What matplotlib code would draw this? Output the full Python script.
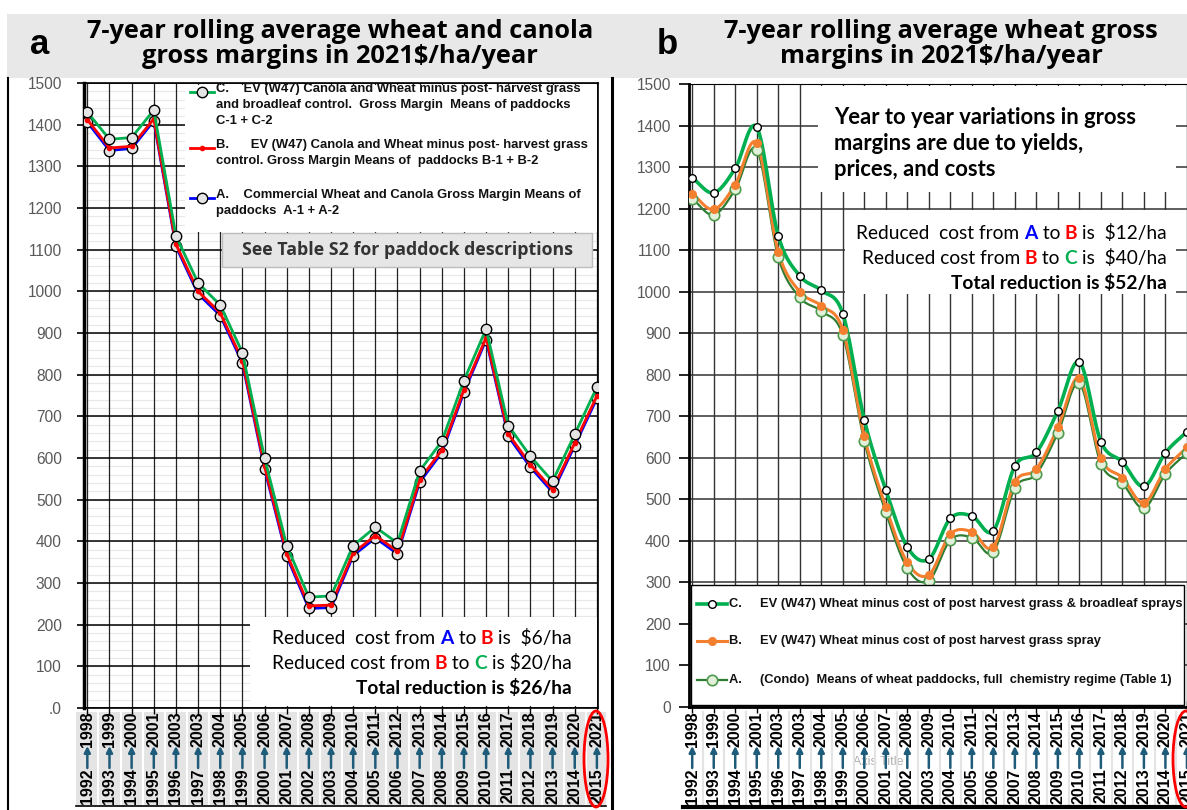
import numpy as np
import matplotlib
matplotlib.use("Agg")
import matplotlib.pyplot as plt
import matplotlib.transforms as mtransforms
from matplotlib.lines import Line2D
from matplotlib.patches import Rectangle, Ellipse
from matplotlib.offsetbox import TextArea, HPacker, VPacker, AnchoredOffsetbox

W, H = 1187, 810
SANS = ["Liberation Sans", "DejaVu Sans"]
ROUND = ["Lato", "DejaVu Sans"]
TITLE = ["Open Sans", "DejaVu Sans"]
plt.rcParams["font.family"] = SANS

# period labels (start year -> end year of 7-year window)
START_YEARS = [1992, 1993, 1994, 1995, 1996, 1997, 1998, 1999, 2000, 2001, 2002, 2003,
               2004, 2005, 2006, 2007, 2008, 2009, 2010, 2011, 2012, 2013, 2014, 2015]
END_YEARS = [1998, 1999, 2000, 2001, 2003, 2003, 2004, 2005, 2006, 2007, 2008, 2009,
             2010, 2011, 2012, 2013, 2014, 2015, 2016, 2017, 2018, 2019, 2020, 2021]

# panel a: wheat + canola gross margins
a_C = [1430, 1365, 1369, 1435, 1133, 1020, 967, 853, 600, 390, 266, 269,
       390, 434, 396, 569, 640, 786, 910, 678, 604, 544, 657, 770]
a_B = [1412, 1344, 1348, 1414, 1113, 1000, 948, 834, 580, 370, 245, 247,
       372, 414, 376, 548, 619, 764, 889, 658, 584, 524, 636, 749]
a_A = [1406, 1338, 1343, 1409, 1108, 994, 942, 828, 574, 364, 239, 241,
       366, 408, 370, 542, 613, 758, 884, 652, 578, 518, 630, 743]

# panel b: wheat gross margins
b_C = [1274, 1238, 1297, 1396, 1135, 1038, 1003, 947, 692, 523, 385, 356,
       454, 460, 424, 580, 613, 713, 831, 639, 590, 531, 612, 663]
b_B = [1236, 1198, 1258, 1357, 1096, 1000, 966, 908, 652, 482, 348, 318,
       416, 422, 385, 541, 573, 673, 792, 599, 552, 491, 573, 625]
b_A = [1224, 1185, 1246, 1342, 1083, 986, 953, 895, 640, 469, 334, 304,
       402, 408, 373, 527, 561, 660, 779, 586, 539, 479, 561, 612]

GREEN = "#00B050"
RED = "#FF0000"
BLUE = "#0000FF"
ORANGE = "#F4802F"
DKGREEN = "#2E7D32"
ARROW = "#1F5C7A"


def fx(x):
    return x / W


def fy(y):
    return 1 - y / H


def fig_rect(fig, x0, y0, x1, y1, **kw):
    r = Rectangle((fx(x0), fy(y1)), fx(x1) - fx(x0), fy(y0) - fy(y1),
                  transform=fig.transFigure, **kw)
    fig.add_artist(r)


def fig_line(fig, xs, ys, **kw):
    fig.add_artist(Line2D([fx(x) for x in xs], [fy(y) for y in ys],
                          transform=fig.transFigure, **kw))


def smooth(xs, ys, n=16):
    """Catmull-Rom curve through the points (like Excel 'smoothed line')."""
    x = np.asarray(xs, float)
    y = np.asarray(ys, float)
    px = np.concatenate([[2 * x[0] - x[1]], x, [2 * x[-1] - x[-2]]])
    py = np.concatenate([[2 * y[0] - y[1]], y, [2 * y[-1] - y[-2]]])
    t = np.linspace(0, 1, n, endpoint=False)
    outx, outy = [], []
    for i in range(1, len(px) - 2):
        for p, out in ((px, outx), (py, outy)):
            p0, p1, p2, p3 = p[i - 1], p[i], p[i + 1], p[i + 2]
            out.extend(0.5 * (2 * p1 + (-p0 + p2) * t + (2 * p0 - 5 * p1 + 4 * p2 - p3) * t ** 2
                              + (-p0 + 3 * p1 - 3 * p2 + p3) * t ** 3))
    outx.append(x[-1])
    outy.append(y[-1])
    return outx, outy


def period_labels(fig, ax, sep_color):
    tr = mtransforms.blended_transform_factory(ax.transData, fig.transFigure)
    for i, (s, e) in enumerate(zip(START_YEARS, END_YEARS)):
        ax.text(i, fy(786), str(s), transform=tr, rotation=90, ha="center", va="center",
                fontsize=11.5, fontweight="bold", clip_on=False)
        ax.text(i, fy(729), str(e), transform=tr, rotation=90, ha="center", va="center",
                fontsize=11.5, fontweight="bold", clip_on=False)
        ax.annotate("", xy=(i, fy(746)), xytext=(i, fy(768)), xycoords=tr, textcoords=tr,
                    arrowprops=dict(arrowstyle="-|>", color=ARROW, lw=1.8, mutation_scale=9,
                                    shrinkA=0, shrinkB=0),
                    annotation_clip=False)
        if i < len(START_YEARS) - 1:
            ax.plot([i + 0.5, i + 0.5], [fy(712), fy(805)], transform=tr, color=sep_color,
                    lw=1.5, clip_on=False, zorder=0.5)


fig = plt.figure(figsize=(W / 100, H / 100), dpi=100)

# title banner
fig_rect(fig, 7, 14, W, 78, facecolor="#E8E8E8", edgecolor="none", zorder=-2)
fig.text(fx(40), fy(45), "a", fontsize=25, fontweight="bold", ha="center", va="center")
fig.text(fx(667), fy(45), "b", fontsize=25, fontweight="bold", ha="center", va="center")
fig.text(fx(340), fy(44), "7-year rolling average wheat and canola\ngross margins in 2021\\$/ha/year",
         fontsize=18.3, fontweight="bold", family=TITLE, ha="center", va="center", linespacing=1.0)
fig.text(fx(941), fy(44), "7-year rolling average wheat gross\nmargins in 2021\\$/ha/year",
         fontsize=18.3, fontweight="bold", family=TITLE, ha="center", va="center", linespacing=1.0)

# panel frames
fig_line(fig, [8, 8], [78, 810], color="black", lw=1.5)
fig_line(fig, [612, 612], [78, 810], color="black", lw=2.2)

# ---------------- panel a ----------------
axa = fig.add_axes([fx(84), fy(708), fx(598) - fx(84), fy(83) - fy(708)])
x = np.arange(len(a_C))
axa.set_xlim(-0.15, 23.05)
axa.set_ylim(0, 1500)
axa.set_yticks(range(0, 1501, 100))
axa.set_yticklabels([".0"] + [str(v) for v in range(100, 1501, 100)])
axa.set_xticks(x)
axa.set_xticklabels([])
axa.tick_params(axis="y", length=5, width=1.2, pad=11, labelsize=11.2,
                labelcolor="#595959", direction="out")
axa.tick_params(axis="x", length=4, width=1, direction="out")
axa.hlines(range(0, 1501, 20), -1, 24, color="#E8E8E8", lw=0.8, zorder=0.1)
axa.grid(axis="y", color="black", lw=1.1)
axa.grid(axis="x", color="#222222", lw=0.9)
axa.set_axisbelow(True)
axa.spines["left"].set_linewidth(2.5)
for side in ("right", "top", "bottom"):
    axa.spines[side].set_linewidth(1.2)

mk = dict(marker="o", markersize=7.5, markerfacecolor="#E4E4E4", markeredgecolor="black",
          markeredgewidth=1)
mk_red = dict(marker="o", markersize=3, markerfacecolor=RED, markeredgecolor=RED)
axa.plot(x, a_A, color=BLUE, lw=2, zorder=3, **mk)
axa.plot(x, a_B, color=RED, lw=2, zorder=4, **mk_red)
axa.plot(x, a_C, color=GREEN, lw=2, zorder=5, **mk)

# legend (panel a)
fig_rect(fig, 185, 85, 597, 232, facecolor="white", edgecolor="none", zorder=2)
leg_a = [
    (92, GREEN, mk, "C.    EV (W47) Canola and Wheat minus post- harvest grass\n"
                    "and broadleaf control.  Gross Margin  Means of paddocks\nC-1 + C-2"),
    (148, RED, mk_red, "B.      EV (W47) Canola and Wheat minus post- harvest grass\n"
                       "control. Gross Margin Means of  paddocks B-1 + B-2"),
    (198, BLUE, mk, "A.    Commercial Wheat and Canola Gross Margin Means of\npaddocks  A-1 + A-2"),
]
for yy, col, m, lab in leg_a:
    fig_line(fig, [190, 202, 214], [yy, yy, yy], color=col, lw=2, markevery=[1], zorder=3, **m)
    fig.text(fx(216), fy(yy - 9), lab, fontsize=9.4, fontweight="bold", va="top", ha="left",
             linespacing=1.45, zorder=3, color="#111111")

fig_rect(fig, 222, 233, 592, 267, facecolor="#E6E6E6", edgecolor="#BDBDBD", lw=1, zorder=3)
fig.text(fx(407), fy(250), "See Table S2 for paddock descriptions", fontsize=12.8, fontweight="bold",
         family=TITLE, ha="center", va="center", color="#333333", zorder=4)


def rich_line(parts, size):
    boxes = [TextArea(t, textprops=dict(color=c, fontweight=w, fontsize=size, family=ROUND))
             for t, c, w in parts]
    return HPacker(children=boxes, align="baseline", pad=0, sep=0)


def reduction_box(fig, right, top, ab, bc, total, size=13.8):
    lines = [
        rich_line([("Reduced  cost from ", "black", "normal"), ("A", BLUE, "bold"),
                   (" to ", "black", "normal"), ("B", RED, "bold"),
                   (" is  " + ab, "black", "normal")], size),
        rich_line([("Reduced cost from ", "black", "normal"), ("B", RED, "bold"),
                   (" to ", "black", "normal"), ("C", GREEN, "bold"),
                   (" is " + bc, "black", "normal")], size),
        rich_line([("Total reduction is " + total, "black", "bold")], size),
    ]
    box = AnchoredOffsetbox(loc="upper right", child=VPacker(children=lines, align="right", pad=0, sep=5),
                            bbox_to_anchor=(fx(right), fy(top)), bbox_transform=fig.transFigure,
                            frameon=False, pad=0, borderpad=0)
    box.set_zorder(4)
    fig.add_artist(box)


fig_rect(fig, 250, 617, 597, 706, facecolor="white", edgecolor="none", zorder=2)
reduction_box(fig, 572, 629, "\\$6/ha", "\\$20/ha", "\\$26/ha")

# x band (panel a)
fig_rect(fig, 76, 712, 606, 805, facecolor="#E4E4E4", edgecolor="none", zorder=-1)
fig_line(fig, [76, 606], [806, 806], color="black", lw=1.2)
period_labels(fig, axa, "white")
fig.add_artist(Ellipse((fx(596), fy(759)), fx(24), 96 / H, transform=fig.transFigure,
                       facecolor="none", edgecolor=RED, lw=2, zorder=6))

# ---------------- panel b ----------------
axb = fig.add_axes([fx(689), fy(707), fx(W + 1) - fx(689), fy(84) - fy(707)])
axb.set_xlim(-0.15, 23.05)
axb.set_ylim(0, 1500)
axb.set_yticks(range(0, 1501, 100))
axb.set_xticks(x)
axb.set_xticklabels([])
axb.tick_params(axis="y", length=7, width=1.2, pad=6, labelsize=11.2, labelcolor="#595959",
                direction="out")
axb.tick_params(axis="x", length=8, width=1, direction="inout")
axb.grid(axis="y", color="#333333", lw=1.1)
axb.grid(axis="x", color="#333333", lw=1.0)
axb.set_axisbelow(True)
axb.spines["left"].set_linewidth(2)
axb.spines["bottom"].set_linewidth(2)

sx, sy = smooth(x, b_A)
axb.plot(sx, sy, color=DKGREEN, lw=1.6, zorder=3)
sx, sy = smooth(x, b_B)
axb.plot(sx, sy, color=ORANGE, lw=2.2, zorder=4)
sx, sy = smooth(x, b_C)
axb.plot(sx, sy, color=GREEN, lw=2.6, zorder=5)
mkA = dict(marker="o", markersize=7.5, markerfacecolor="#E2F0D9", markeredgecolor="#4E9A4E",
           markeredgewidth=1.2)
mkB = dict(marker="o", markersize=5.5, markerfacecolor=ORANGE, markeredgecolor=ORANGE)
mkC = dict(marker="o", markersize=5.5, markerfacecolor="white", markeredgecolor="black",
           markeredgewidth=1)
axb.plot(x, b_A, ls="none", zorder=6, **mkA)
axb.plot(x, b_B, ls="none", zorder=6, **mkB)
axb.plot(x, b_C, ls="none", zorder=6, **mkC)

# text boxes (panel b)
fig_rect(fig, 818, 86, 1176, 192, facecolor="white", edgecolor="none", zorder=2)
fig.text(fx(834), fy(107), "Year to year variations in gross\nmargins are due to yields,\nprices, and costs",
         fontsize=15.8, fontweight="bold", family=ROUND, ha="left", va="top", linespacing=1.3, zorder=3)
fig_rect(fig, 845, 210, 1176, 294, facecolor="white", edgecolor="none", zorder=2)
reduction_box(fig, 1167, 224, "\\$12/ha", " \\$40/ha", "\\$52/ha")

# legend (panel b)
fig_rect(fig, 691, 585, 1184, 705, facecolor="white", edgecolor="black", lw=1, zorder=2)
leg_b = [
    (604, GREEN, 2.6, mkC, "C.     EV (W47) Wheat minus cost of post harvest grass & broadleaf sprays"),
    (641, ORANGE, 2.2, mkB, "B.     EV (W47) Wheat minus cost of post harvest grass spray"),
    (680, DKGREEN, 1.6, mkA, "A.     (Condo)  Means of wheat paddocks, full  chemistry regime (Table 1)"),
]
for yy, col, lw, m, lab in leg_b:
    fig_line(fig, [697, 712, 727], [yy, yy, yy], color=col, lw=lw, markevery=[1], zorder=3, **m)
    fig.text(fx(729), fy(yy), lab, fontsize=9.3, fontweight="bold", va="center", ha="left",
             zorder=3, color="#111111")

# x band (panel b)
fig_line(fig, [683, W], [807, 807], color="black", lw=3)
fig.text(fx(878), fy(762), "Axis Title", fontsize=9, color="#B0B0B0", ha="center", va="center",
         zorder=-1)
period_labels(fig, axb, "#E4E4E4")
fig.add_artist(Ellipse((fx(1186), fy(759)), fx(26), 96 / H, transform=fig.transFigure,
                       facecolor="none", edgecolor=RED, lw=2, zorder=6))

fig.savefig("out.png", dpi=100)
